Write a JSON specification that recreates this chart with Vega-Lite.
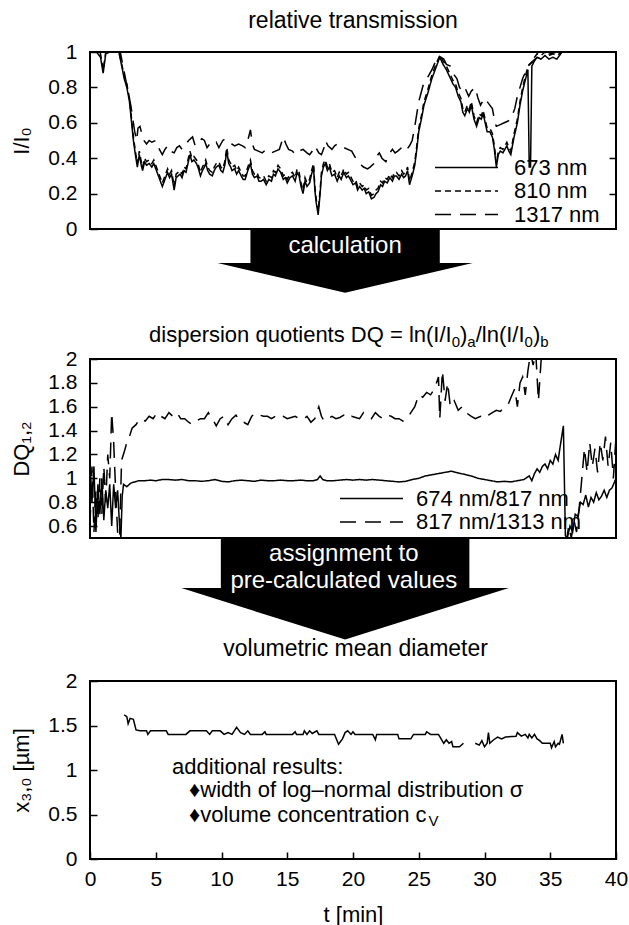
{
  "$schema": "https://vega.github.io/schema/vega-lite/v6.json",
  "padding": {"left": 9, "top": 9, "right": 6, "bottom": 0},
  "background": "white",
  "config": {
    "font": "Liberation Sans",
    "view": {"stroke": "black", "strokeWidth": 2},
    "axis": {"domain": false, "grid": false, "tickColor": "black", "tickSize": -7, "tickWidth": 1.5, "labelFontSize": 21, "labelColor": "black", "titleFontSize": 22, "titleFontWeight": "normal", "titleColor": "black", "labelPadding": 20},
    "title": {"fontSize": 23, "fontWeight": "normal", "color": "black", "offset": 8},
    "legend": {"labelColor": "black", "padding": 0, "symbolStrokeColor": "black", "symbolStrokeWidth": 1.5, "symbolType": "M-3,0H3", "symbolSize": 441, "rowPadding": 0.5, "labelLimit": 300}
  },
  "spacing": 0,
  "bounds": "flush",
  "resolve": {"scale": {"strokeDash": "independent"}, "legend": {"strokeDash": "independent"}},
  "datasets": {
    "tr": [
      {"s":"673 nm","t":0,"v":1},{"s":"673 nm","t":0.5,"v":1},{"s":"673 nm","t":0.8,"v":0.97},{"s":"673 nm","t":1.0,"v":0.88},{"s":"673 nm","t":1.2,"v":0.99},{"s":"673 nm","t":1.5,"v":1},{"s":"673 nm","t":2.2,"v":1},{"s":"673 nm","t":2.6,"v":0.85},{"s":"673 nm","t":2.8,"v":0.8},{"s":"673 nm","t":3.0,"v":0.72},{"s":"673 nm","t":3.3,"v":0.5},{"s":"673 nm","t":3.45,"v":0.42},{"s":"673 nm","t":3.6,"v":0.35},{"s":"673 nm","t":3.75,"v":0.42},{"s":"673 nm","t":3.9,"v":0.36},{"s":"673 nm","t":4.0,"v":0.33},{"s":"673 nm","t":4.15,"v":0.38},{"s":"673 nm","t":4.3,"v":0.36},{"s":"673 nm","t":4.5,"v":0.37},{"s":"673 nm","t":4.7,"v":0.35},{"s":"673 nm","t":4.85,"v":0.37},{"s":"673 nm","t":5.0,"v":0.34},{"s":"673 nm","t":5.2,"v":0.3},{"s":"673 nm","t":5.35,"v":0.27},{"s":"673 nm","t":5.5,"v":0.24},{"s":"673 nm","t":5.65,"v":0.27},{"s":"673 nm","t":5.8,"v":0.3},{"s":"673 nm","t":5.9,"v":0.32},{"s":"673 nm","t":6.05,"v":0.29},{"s":"673 nm","t":6.2,"v":0.31},{"s":"673 nm","t":6.4,"v":0.22},{"s":"673 nm","t":6.55,"v":0.29},{"s":"673 nm","t":6.7,"v":0.3},{"s":"673 nm","t":6.85,"v":0.31},{"s":"673 nm","t":7.0,"v":0.29},{"s":"673 nm","t":7.15,"v":0.33},{"s":"673 nm","t":7.3,"v":0.32},{"s":"673 nm","t":7.45,"v":0.37},{"s":"673 nm","t":7.6,"v":0.42},{"s":"673 nm","t":7.75,"v":0.38},{"s":"673 nm","t":7.9,"v":0.39},{"s":"673 nm","t":8.1,"v":0.37},{"s":"673 nm","t":8.25,"v":0.34},{"s":"673 nm","t":8.4,"v":0.3},{"s":"673 nm","t":8.55,"v":0.33},{"s":"673 nm","t":8.7,"v":0.35},{"s":"673 nm","t":8.8,"v":0.37},{"s":"673 nm","t":8.95,"v":0.33},{"s":"673 nm","t":9.1,"v":0.31},{"s":"673 nm","t":9.3,"v":0.3},{"s":"673 nm","t":9.45,"v":0.33},{"s":"673 nm","t":9.6,"v":0.35},{"s":"673 nm","t":9.8,"v":0.36},{"s":"673 nm","t":9.95,"v":0.33},{"s":"673 nm","t":10.1,"v":0.32},{"s":"673 nm","t":10.25,"v":0.36},{"s":"673 nm","t":10.4,"v":0.44},{"s":"673 nm","t":10.55,"v":0.37},{"s":"673 nm","t":10.7,"v":0.35},{"s":"673 nm","t":10.8,"v":0.33},{"s":"673 nm","t":11.0,"v":0.34},{"s":"673 nm","t":11.15,"v":0.31},{"s":"673 nm","t":11.3,"v":0.33},{"s":"673 nm","t":11.5,"v":0.3},{"s":"673 nm","t":11.65,"v":0.28},{"s":"673 nm","t":11.8,"v":0.28},{"s":"673 nm","t":12.0,"v":0.33},{"s":"673 nm","t":12.1,"v":0.35},{"s":"673 nm","t":12.2,"v":0.37},{"s":"673 nm","t":12.35,"v":0.31},{"s":"673 nm","t":12.5,"v":0.29},{"s":"673 nm","t":12.7,"v":0.3},{"s":"673 nm","t":12.85,"v":0.27},{"s":"673 nm","t":13.0,"v":0.27},{"s":"673 nm","t":13.2,"v":0.28},{"s":"673 nm","t":13.4,"v":0.25},{"s":"673 nm","t":13.6,"v":0.28},{"s":"673 nm","t":13.8,"v":0.27},{"s":"673 nm","t":13.95,"v":0.31},{"s":"673 nm","t":14.1,"v":0.3},{"s":"673 nm","t":14.3,"v":0.34},{"s":"673 nm","t":14.5,"v":0.32},{"s":"673 nm","t":14.7,"v":0.28},{"s":"673 nm","t":14.85,"v":0.29},{"s":"673 nm","t":15.0,"v":0.26},{"s":"673 nm","t":15.2,"v":0.29},{"s":"673 nm","t":15.4,"v":0.3},{"s":"673 nm","t":15.6,"v":0.27},{"s":"673 nm","t":15.75,"v":0.32},{"s":"673 nm","t":15.9,"v":0.3},{"s":"673 nm","t":16.05,"v":0.24},{"s":"673 nm","t":16.2,"v":0.2},{"s":"673 nm","t":16.35,"v":0.27},{"s":"673 nm","t":16.5,"v":0.24},{"s":"673 nm","t":16.7,"v":0.26},{"s":"673 nm","t":16.85,"v":0.31},{"s":"673 nm","t":17.0,"v":0.35},{"s":"673 nm","t":17.1,"v":0.22},{"s":"673 nm","t":17.2,"v":0.15},{"s":"673 nm","t":17.35,"v":0.08},{"s":"673 nm","t":17.5,"v":0.2},{"s":"673 nm","t":17.6,"v":0.3},{"s":"673 nm","t":17.75,"v":0.35},{"s":"673 nm","t":17.9,"v":0.37},{"s":"673 nm","t":18.05,"v":0.33},{"s":"673 nm","t":18.2,"v":0.35},{"s":"673 nm","t":18.4,"v":0.3},{"s":"673 nm","t":18.6,"v":0.31},{"s":"673 nm","t":18.8,"v":0.27},{"s":"673 nm","t":18.95,"v":0.3},{"s":"673 nm","t":19.1,"v":0.28},{"s":"673 nm","t":19.3,"v":0.32},{"s":"673 nm","t":19.5,"v":0.29},{"s":"673 nm","t":19.65,"v":0.3},{"s":"673 nm","t":19.8,"v":0.28},{"s":"673 nm","t":20.0,"v":0.25},{"s":"673 nm","t":20.2,"v":0.26},{"s":"673 nm","t":20.35,"v":0.22},{"s":"673 nm","t":20.5,"v":0.24},{"s":"673 nm","t":20.7,"v":0.22},{"s":"673 nm","t":20.85,"v":0.23},{"s":"673 nm","t":21.0,"v":0.2},{"s":"673 nm","t":21.2,"v":0.21},{"s":"673 nm","t":21.4,"v":0.17},{"s":"673 nm","t":21.6,"v":0.18},{"s":"673 nm","t":21.75,"v":0.2},{"s":"673 nm","t":21.9,"v":0.21},{"s":"673 nm","t":22.1,"v":0.25},{"s":"673 nm","t":22.25,"v":0.24},{"s":"673 nm","t":22.4,"v":0.27},{"s":"673 nm","t":22.6,"v":0.26},{"s":"673 nm","t":22.8,"v":0.29},{"s":"673 nm","t":23.0,"v":0.27},{"s":"673 nm","t":23.15,"v":0.3},{"s":"673 nm","t":23.3,"v":0.3},{"s":"673 nm","t":23.5,"v":0.28},{"s":"673 nm","t":23.7,"v":0.31},{"s":"673 nm","t":23.85,"v":0.29},{"s":"673 nm","t":24.0,"v":0.3},{"s":"673 nm","t":24.15,"v":0.33},{"s":"673 nm","t":24.3,"v":0.25},{"s":"673 nm","t":24.5,"v":0.3},{"s":"673 nm","t":24.7,"v":0.36},{"s":"673 nm","t":24.85,"v":0.45},{"s":"673 nm","t":25.0,"v":0.55},{"s":"673 nm","t":25.2,"v":0.62},{"s":"673 nm","t":25.4,"v":0.7},{"s":"673 nm","t":25.7,"v":0.77},{"s":"673 nm","t":26.0,"v":0.85},{"s":"673 nm","t":26.3,"v":0.91},{"s":"673 nm","t":26.6,"v":0.97},{"s":"673 nm","t":26.85,"v":0.93},{"s":"673 nm","t":27.1,"v":0.9},{"s":"673 nm","t":27.35,"v":0.86},{"s":"673 nm","t":27.6,"v":0.82},{"s":"673 nm","t":27.8,"v":0.8},{"s":"673 nm","t":28.0,"v":0.75},{"s":"673 nm","t":28.2,"v":0.72},{"s":"673 nm","t":28.35,"v":0.66},{"s":"673 nm","t":28.5,"v":0.64},{"s":"673 nm","t":28.7,"v":0.68},{"s":"673 nm","t":28.85,"v":0.66},{"s":"673 nm","t":29.0,"v":0.7},{"s":"673 nm","t":29.2,"v":0.62},{"s":"673 nm","t":29.4,"v":0.58},{"s":"673 nm","t":29.6,"v":0.63},{"s":"673 nm","t":29.75,"v":0.62},{"s":"673 nm","t":29.9,"v":0.65},{"s":"673 nm","t":30.05,"v":0.6},{"s":"673 nm","t":30.2,"v":0.55},{"s":"673 nm","t":30.4,"v":0.55},{"s":"673 nm","t":30.6,"v":0.52},{"s":"673 nm","t":30.75,"v":0.45},{"s":"673 nm","t":30.9,"v":0.35},{"s":"673 nm","t":31.05,"v":0.42},{"s":"673 nm","t":31.2,"v":0.44},{"s":"673 nm","t":31.4,"v":0.43},{"s":"673 nm","t":31.55,"v":0.45},{"s":"673 nm","t":31.7,"v":0.47},{"s":"673 nm","t":31.85,"v":0.44},{"s":"673 nm","t":32.0,"v":0.42},{"s":"673 nm","t":32.25,"v":0.52},{"s":"673 nm","t":32.5,"v":0.6},{"s":"673 nm","t":32.7,"v":0.7},{"s":"673 nm","t":32.9,"v":0.78},{"s":"673 nm","t":33.1,"v":0.84},{"s":"673 nm","t":33.3,"v":0.9},{"s":"673 nm","t":33.4,"v":0.35},{"s":"673 nm","t":33.5,"v":0.35},{"s":"673 nm","t":33.6,"v":0.92},{"s":"673 nm","t":33.8,"v":0.95},{"s":"673 nm","t":34.0,"v":0.97},{"s":"673 nm","t":34.3,"v":0.96},{"s":"673 nm","t":34.6,"v":0.98},{"s":"673 nm","t":34.9,"v":0.96},{"s":"673 nm","t":35.2,"v":0.97},{"s":"673 nm","t":35.5,"v":0.96},{"s":"673 nm","t":35.9,"v":1},{"s":"673 nm","t":37,"v":1},{"s":"673 nm","t":40,"v":1},
      {"s":"810 nm","t":0,"v":1},{"s":"810 nm","t":0.5,"v":1},{"s":"810 nm","t":0.8,"v":0.99},{"s":"810 nm","t":1.0,"v":0.9},{"s":"810 nm","t":1.2,"v":1},{"s":"810 nm","t":2.2,"v":1},{"s":"810 nm","t":2.6,"v":0.87},{"s":"810 nm","t":2.8,"v":0.82},{"s":"810 nm","t":3.0,"v":0.74},{"s":"810 nm","t":3.3,"v":0.52},{"s":"810 nm","t":3.45,"v":0.44},{"s":"810 nm","t":3.6,"v":0.37},{"s":"810 nm","t":3.75,"v":0.44},{"s":"810 nm","t":3.9,"v":0.38},{"s":"810 nm","t":4.0,"v":0.35},{"s":"810 nm","t":4.15,"v":0.4},{"s":"810 nm","t":4.3,"v":0.38},{"s":"810 nm","t":4.5,"v":0.39},{"s":"810 nm","t":4.7,"v":0.37},{"s":"810 nm","t":4.85,"v":0.39},{"s":"810 nm","t":5.0,"v":0.36},{"s":"810 nm","t":5.2,"v":0.32},{"s":"810 nm","t":5.35,"v":0.29},{"s":"810 nm","t":5.5,"v":0.26},{"s":"810 nm","t":5.65,"v":0.29},{"s":"810 nm","t":5.8,"v":0.32},{"s":"810 nm","t":5.9,"v":0.34},{"s":"810 nm","t":6.05,"v":0.31},{"s":"810 nm","t":6.2,"v":0.33},{"s":"810 nm","t":6.4,"v":0.24},{"s":"810 nm","t":6.55,"v":0.31},{"s":"810 nm","t":6.7,"v":0.32},{"s":"810 nm","t":6.85,"v":0.33},{"s":"810 nm","t":7.0,"v":0.31},{"s":"810 nm","t":7.15,"v":0.35},{"s":"810 nm","t":7.3,"v":0.34},{"s":"810 nm","t":7.45,"v":0.39},{"s":"810 nm","t":7.6,"v":0.44},{"s":"810 nm","t":7.75,"v":0.4},{"s":"810 nm","t":7.9,"v":0.41},{"s":"810 nm","t":8.1,"v":0.39},{"s":"810 nm","t":8.25,"v":0.36},{"s":"810 nm","t":8.4,"v":0.32},{"s":"810 nm","t":8.55,"v":0.35},{"s":"810 nm","t":8.7,"v":0.37},{"s":"810 nm","t":8.8,"v":0.39},{"s":"810 nm","t":8.95,"v":0.35},{"s":"810 nm","t":9.1,"v":0.33},{"s":"810 nm","t":9.3,"v":0.32},{"s":"810 nm","t":9.45,"v":0.35},{"s":"810 nm","t":9.6,"v":0.37},{"s":"810 nm","t":9.8,"v":0.38},{"s":"810 nm","t":9.95,"v":0.35},{"s":"810 nm","t":10.1,"v":0.34},{"s":"810 nm","t":10.25,"v":0.38},{"s":"810 nm","t":10.4,"v":0.46},{"s":"810 nm","t":10.55,"v":0.39},{"s":"810 nm","t":10.7,"v":0.37},{"s":"810 nm","t":10.8,"v":0.35},{"s":"810 nm","t":11.0,"v":0.36},{"s":"810 nm","t":11.15,"v":0.33},{"s":"810 nm","t":11.3,"v":0.35},{"s":"810 nm","t":11.5,"v":0.32},{"s":"810 nm","t":11.65,"v":0.3},{"s":"810 nm","t":11.8,"v":0.3},{"s":"810 nm","t":12.0,"v":0.35},{"s":"810 nm","t":12.1,"v":0.37},{"s":"810 nm","t":12.2,"v":0.39},{"s":"810 nm","t":12.35,"v":0.33},{"s":"810 nm","t":12.5,"v":0.31},{"s":"810 nm","t":12.7,"v":0.32},{"s":"810 nm","t":12.85,"v":0.29},{"s":"810 nm","t":13.0,"v":0.29},{"s":"810 nm","t":13.2,"v":0.3},{"s":"810 nm","t":13.4,"v":0.27},{"s":"810 nm","t":13.6,"v":0.3},{"s":"810 nm","t":13.8,"v":0.29},{"s":"810 nm","t":13.95,"v":0.33},{"s":"810 nm","t":14.1,"v":0.32},{"s":"810 nm","t":14.3,"v":0.36},{"s":"810 nm","t":14.5,"v":0.34},{"s":"810 nm","t":14.7,"v":0.3},{"s":"810 nm","t":14.85,"v":0.31},{"s":"810 nm","t":15.0,"v":0.28},{"s":"810 nm","t":15.2,"v":0.31},{"s":"810 nm","t":15.4,"v":0.32},{"s":"810 nm","t":15.6,"v":0.29},{"s":"810 nm","t":15.75,"v":0.34},{"s":"810 nm","t":15.9,"v":0.32},{"s":"810 nm","t":16.05,"v":0.26},{"s":"810 nm","t":16.2,"v":0.22},{"s":"810 nm","t":16.35,"v":0.29},{"s":"810 nm","t":16.5,"v":0.26},{"s":"810 nm","t":16.7,"v":0.28},{"s":"810 nm","t":16.85,"v":0.33},{"s":"810 nm","t":17.0,"v":0.37},{"s":"810 nm","t":17.1,"v":0.24},{"s":"810 nm","t":17.2,"v":0.17},{"s":"810 nm","t":17.35,"v":0.1},{"s":"810 nm","t":17.5,"v":0.22},{"s":"810 nm","t":17.6,"v":0.32},{"s":"810 nm","t":17.75,"v":0.37},{"s":"810 nm","t":17.9,"v":0.39},{"s":"810 nm","t":18.05,"v":0.35},{"s":"810 nm","t":18.2,"v":0.37},{"s":"810 nm","t":18.4,"v":0.32},{"s":"810 nm","t":18.6,"v":0.33},{"s":"810 nm","t":18.8,"v":0.29},{"s":"810 nm","t":18.95,"v":0.32},{"s":"810 nm","t":19.1,"v":0.3},{"s":"810 nm","t":19.3,"v":0.34},{"s":"810 nm","t":19.5,"v":0.31},{"s":"810 nm","t":19.65,"v":0.32},{"s":"810 nm","t":19.8,"v":0.3},{"s":"810 nm","t":20.0,"v":0.27},{"s":"810 nm","t":20.2,"v":0.28},{"s":"810 nm","t":20.35,"v":0.24},{"s":"810 nm","t":20.5,"v":0.26},{"s":"810 nm","t":20.7,"v":0.24},{"s":"810 nm","t":20.85,"v":0.25},{"s":"810 nm","t":21.0,"v":0.22},{"s":"810 nm","t":21.2,"v":0.23},{"s":"810 nm","t":21.4,"v":0.19},{"s":"810 nm","t":21.6,"v":0.2},{"s":"810 nm","t":21.75,"v":0.22},{"s":"810 nm","t":21.9,"v":0.23},{"s":"810 nm","t":22.1,"v":0.27},{"s":"810 nm","t":22.25,"v":0.26},{"s":"810 nm","t":22.4,"v":0.29},{"s":"810 nm","t":22.6,"v":0.28},{"s":"810 nm","t":22.8,"v":0.31},{"s":"810 nm","t":23.0,"v":0.29},{"s":"810 nm","t":23.15,"v":0.32},{"s":"810 nm","t":23.3,"v":0.32},{"s":"810 nm","t":23.5,"v":0.3},{"s":"810 nm","t":23.7,"v":0.33},{"s":"810 nm","t":23.85,"v":0.31},{"s":"810 nm","t":24.0,"v":0.32},{"s":"810 nm","t":24.15,"v":0.35},{"s":"810 nm","t":24.3,"v":0.27},{"s":"810 nm","t":24.5,"v":0.32},{"s":"810 nm","t":24.7,"v":0.38},{"s":"810 nm","t":24.85,"v":0.47},{"s":"810 nm","t":25.0,"v":0.57},{"s":"810 nm","t":25.2,"v":0.64},{"s":"810 nm","t":25.4,"v":0.72},{"s":"810 nm","t":25.7,"v":0.79},{"s":"810 nm","t":26.0,"v":0.87},{"s":"810 nm","t":26.3,"v":0.93},{"s":"810 nm","t":26.6,"v":0.98},{"s":"810 nm","t":26.85,"v":0.95},{"s":"810 nm","t":27.1,"v":0.92},{"s":"810 nm","t":27.35,"v":0.88},{"s":"810 nm","t":27.6,"v":0.84},{"s":"810 nm","t":27.8,"v":0.82},{"s":"810 nm","t":28.0,"v":0.77},{"s":"810 nm","t":28.2,"v":0.74},{"s":"810 nm","t":28.35,"v":0.68},{"s":"810 nm","t":28.5,"v":0.66},{"s":"810 nm","t":28.7,"v":0.7},{"s":"810 nm","t":28.85,"v":0.68},{"s":"810 nm","t":29.0,"v":0.72},{"s":"810 nm","t":29.2,"v":0.64},{"s":"810 nm","t":29.4,"v":0.6},{"s":"810 nm","t":29.6,"v":0.65},{"s":"810 nm","t":29.75,"v":0.64},{"s":"810 nm","t":29.9,"v":0.67},{"s":"810 nm","t":30.05,"v":0.62},{"s":"810 nm","t":30.2,"v":0.57},{"s":"810 nm","t":30.4,"v":0.57},{"s":"810 nm","t":30.6,"v":0.54},{"s":"810 nm","t":30.75,"v":0.47},{"s":"810 nm","t":30.9,"v":0.37},{"s":"810 nm","t":31.05,"v":0.44},{"s":"810 nm","t":31.2,"v":0.46},{"s":"810 nm","t":31.4,"v":0.45},{"s":"810 nm","t":31.55,"v":0.47},{"s":"810 nm","t":31.7,"v":0.49},{"s":"810 nm","t":31.85,"v":0.46},{"s":"810 nm","t":32.0,"v":0.44},{"s":"810 nm","t":32.25,"v":0.54},{"s":"810 nm","t":32.5,"v":0.62},{"s":"810 nm","t":32.7,"v":0.72},{"s":"810 nm","t":32.9,"v":0.8},{"s":"810 nm","t":33.1,"v":0.86},{"s":"810 nm","t":33.3,"v":0.92},{"s":"810 nm","t":33.6,"v":0.94},{"s":"810 nm","t":33.8,"v":0.97},{"s":"810 nm","t":34.0,"v":0.99},{"s":"810 nm","t":34.3,"v":0.98},{"s":"810 nm","t":34.6,"v":1},{"s":"810 nm","t":34.9,"v":0.98},{"s":"810 nm","t":35.2,"v":0.99},{"s":"810 nm","t":35.5,"v":0.98},{"s":"810 nm","t":35.9,"v":1},{"s":"810 nm","t":40,"v":1},
      {"s":"1317 nm","t":0,"v":1},{"s":"1317 nm","t":2.3,"v":1},{"s":"1317 nm","t":2.7,"v":0.85},{"s":"1317 nm","t":3.1,"v":0.7},{"s":"1317 nm","t":3.4,"v":0.55},{"s":"1317 nm","t":3.55,"v":0.5},{"s":"1317 nm","t":3.65,"v":0.57},{"s":"1317 nm","t":3.8,"v":0.58},{"s":"1317 nm","t":3.9,"v":0.55},{"s":"1317 nm","t":4.1,"v":0.5},{"s":"1317 nm","t":4.3,"v":0.48},{"s":"1317 nm","t":4.5,"v":0.5},{"s":"1317 nm","t":4.7,"v":0.49},{"s":"1317 nm","t":5.0,"v":0.5},{"s":"1317 nm","t":5.2,"v":0.46},{"s":"1317 nm","t":5.5,"v":0.42},{"s":"1317 nm","t":5.7,"v":0.45},{"s":"1317 nm","t":5.9,"v":0.47},{"s":"1317 nm","t":6.1,"v":0.44},{"s":"1317 nm","t":6.4,"v":0.43},{"s":"1317 nm","t":6.6,"v":0.46},{"s":"1317 nm","t":6.8,"v":0.47},{"s":"1317 nm","t":7.0,"v":0.45},{"s":"1317 nm","t":7.3,"v":0.48},{"s":"1317 nm","t":7.5,"v":0.5},{"s":"1317 nm","t":7.8,"v":0.52},{"s":"1317 nm","t":8.0,"v":0.47},{"s":"1317 nm","t":8.2,"v":0.49},{"s":"1317 nm","t":8.5,"v":0.51},{"s":"1317 nm","t":8.7,"v":0.5},{"s":"1317 nm","t":8.9,"v":0.46},{"s":"1317 nm","t":9.1,"v":0.48},{"s":"1317 nm","t":9.3,"v":0.47},{"s":"1317 nm","t":9.6,"v":0.49},{"s":"1317 nm","t":9.8,"v":0.46},{"s":"1317 nm","t":10.1,"v":0.5},{"s":"1317 nm","t":10.3,"v":0.51},{"s":"1317 nm","t":10.5,"v":0.5},{"s":"1317 nm","t":10.8,"v":0.48},{"s":"1317 nm","t":11.0,"v":0.47},{"s":"1317 nm","t":11.3,"v":0.48},{"s":"1317 nm","t":11.6,"v":0.47},{"s":"1317 nm","t":11.8,"v":0.46},{"s":"1317 nm","t":12.0,"v":0.5},{"s":"1317 nm","t":12.2,"v":0.56},{"s":"1317 nm","t":12.35,"v":0.48},{"s":"1317 nm","t":12.5,"v":0.45},{"s":"1317 nm","t":12.8,"v":0.44},{"s":"1317 nm","t":13.1,"v":0.43},{"s":"1317 nm","t":13.4,"v":0.45},{"s":"1317 nm","t":13.8,"v":0.43},{"s":"1317 nm","t":14.1,"v":0.44},{"s":"1317 nm","t":14.4,"v":0.45},{"s":"1317 nm","t":14.7,"v":0.52},{"s":"1317 nm","t":14.9,"v":0.48},{"s":"1317 nm","t":15.1,"v":0.45},{"s":"1317 nm","t":15.4,"v":0.44},{"s":"1317 nm","t":15.6,"v":0.42},{"s":"1317 nm","t":15.9,"v":0.44},{"s":"1317 nm","t":16.2,"v":0.45},{"s":"1317 nm","t":16.5,"v":0.43},{"s":"1317 nm","t":16.7,"v":0.42},{"s":"1317 nm","t":17.0,"v":0.45},{"s":"1317 nm","t":17.1,"v":0.47},{"s":"1317 nm","t":17.4,"v":0.43},{"s":"1317 nm","t":17.6,"v":0.42},{"s":"1317 nm","t":17.8,"v":0.46},{"s":"1317 nm","t":17.9,"v":0.5},{"s":"1317 nm","t":18.1,"v":0.47},{"s":"1317 nm","t":18.4,"v":0.45},{"s":"1317 nm","t":18.6,"v":0.47},{"s":"1317 nm","t":18.8,"v":0.48},{"s":"1317 nm","t":19.1,"v":0.46},{"s":"1317 nm","t":19.3,"v":0.46},{"s":"1317 nm","t":19.6,"v":0.45},{"s":"1317 nm","t":19.9,"v":0.44},{"s":"1317 nm","t":20.2,"v":0.4},{"s":"1317 nm","t":20.5,"v":0.37},{"s":"1317 nm","t":20.8,"v":0.35},{"s":"1317 nm","t":21.1,"v":0.34},{"s":"1317 nm","t":21.3,"v":0.35},{"s":"1317 nm","t":21.6,"v":0.37},{"s":"1317 nm","t":21.8,"v":0.41},{"s":"1317 nm","t":22.0,"v":0.43},{"s":"1317 nm","t":22.2,"v":0.4},{"s":"1317 nm","t":22.5,"v":0.38},{"s":"1317 nm","t":22.7,"v":0.42},{"s":"1317 nm","t":23.0,"v":0.45},{"s":"1317 nm","t":23.2,"v":0.43},{"s":"1317 nm","t":23.4,"v":0.44},{"s":"1317 nm","t":23.7,"v":0.46},{"s":"1317 nm","t":23.9,"v":0.47},{"s":"1317 nm","t":24.1,"v":0.45},{"s":"1317 nm","t":24.3,"v":0.47},{"s":"1317 nm","t":24.5,"v":0.5},{"s":"1317 nm","t":24.7,"v":0.58},{"s":"1317 nm","t":25.0,"v":0.72},{"s":"1317 nm","t":25.4,"v":0.83},{"s":"1317 nm","t":25.7,"v":0.86},{"s":"1317 nm","t":26.0,"v":0.9},{"s":"1317 nm","t":26.3,"v":0.95},{"s":"1317 nm","t":26.5,"v":0.98},{"s":"1317 nm","t":26.9,"v":0.96},{"s":"1317 nm","t":27.1,"v":0.93},{"s":"1317 nm","t":27.4,"v":0.92},{"s":"1317 nm","t":27.6,"v":0.88},{"s":"1317 nm","t":27.9,"v":0.85},{"s":"1317 nm","t":28.1,"v":0.8},{"s":"1317 nm","t":28.3,"v":0.78},{"s":"1317 nm","t":28.5,"v":0.8},{"s":"1317 nm","t":28.8,"v":0.75},{"s":"1317 nm","t":29.0,"v":0.78},{"s":"1317 nm","t":29.3,"v":0.8},{"s":"1317 nm","t":29.5,"v":0.74},{"s":"1317 nm","t":29.7,"v":0.7},{"s":"1317 nm","t":30.0,"v":0.74},{"s":"1317 nm","t":30.2,"v":0.72},{"s":"1317 nm","t":30.4,"v":0.7},{"s":"1317 nm","t":30.6,"v":0.68},{"s":"1317 nm","t":30.8,"v":0.6},{"s":"1317 nm","t":30.9,"v":0.58},{"s":"1317 nm","t":31.2,"v":0.59},{"s":"1317 nm","t":31.5,"v":0.6},{"s":"1317 nm","t":31.8,"v":0.61},{"s":"1317 nm","t":32.0,"v":0.62},{"s":"1317 nm","t":32.3,"v":0.68},{"s":"1317 nm","t":32.5,"v":0.75},{"s":"1317 nm","t":32.9,"v":0.85},{"s":"1317 nm","t":33.2,"v":0.9},{"s":"1317 nm","t":33.4,"v":0.93},{"s":"1317 nm","t":33.7,"v":0.95},{"s":"1317 nm","t":34.0,"v":0.97},{"s":"1317 nm","t":34.3,"v":0.96},{"s":"1317 nm","t":34.6,"v":0.98},{"s":"1317 nm","t":35.0,"v":0.99},{"s":"1317 nm","t":35.5,"v":1},{"s":"1317 nm","t":40,"v":1}
    ],
    "dq": [
      {"s":"674 nm/817 nm","t":0,"v":1.15},{"s":"674 nm/817 nm","t":0.15,"v":0.8},{"s":"674 nm/817 nm","t":0.3,"v":1.1},{"s":"674 nm/817 nm","t":0.45,"v":0.55},{"s":"674 nm/817 nm","t":0.6,"v":0.95},{"s":"674 nm/817 nm","t":0.75,"v":0.7},{"s":"674 nm/817 nm","t":0.9,"v":1.0},{"s":"674 nm/817 nm","t":1.05,"v":0.65},{"s":"674 nm/817 nm","t":1.2,"v":0.9},{"s":"674 nm/817 nm","t":1.35,"v":0.75},{"s":"674 nm/817 nm","t":1.5,"v":0.95},{"s":"674 nm/817 nm","t":1.65,"v":0.6},{"s":"674 nm/817 nm","t":1.8,"v":0.95},{"s":"674 nm/817 nm","t":1.95,"v":0.75},{"s":"674 nm/817 nm","t":2.1,"v":0.9},{"s":"674 nm/817 nm","t":2.25,"v":0.6},{"s":"674 nm/817 nm","t":2.35,"v":0.5},{"s":"674 nm/817 nm","t":2.45,"v":0.85},{"s":"674 nm/817 nm","t":2.55,"v":0.95},{"s":"674 nm/817 nm","t":2.8,"v":0.93},{"s":"674 nm/817 nm","t":3.1,"v":0.96},{"s":"674 nm/817 nm","t":3.4,"v":0.97},{"s":"674 nm/817 nm","t":3.7,"v":0.98},{"s":"674 nm/817 nm","t":4.2,"v":0.98},{"s":"674 nm/817 nm","t":4.6,"v":0.985},{"s":"674 nm/817 nm","t":5.0,"v":0.98},{"s":"674 nm/817 nm","t":5.5,"v":0.99},{"s":"674 nm/817 nm","t":6.0,"v":0.99},{"s":"674 nm/817 nm","t":6.5,"v":0.985},{"s":"674 nm/817 nm","t":7.0,"v":0.99},{"s":"674 nm/817 nm","t":7.5,"v":0.98},{"s":"674 nm/817 nm","t":8.0,"v":0.98},{"s":"674 nm/817 nm","t":8.5,"v":0.975},{"s":"674 nm/817 nm","t":9.0,"v":0.98},{"s":"674 nm/817 nm","t":9.5,"v":0.99},{"s":"674 nm/817 nm","t":10.0,"v":0.975},{"s":"674 nm/817 nm","t":10.5,"v":0.97},{"s":"674 nm/817 nm","t":11.0,"v":0.98},{"s":"674 nm/817 nm","t":11.5,"v":0.985},{"s":"674 nm/817 nm","t":12.0,"v":0.98},{"s":"674 nm/817 nm","t":12.5,"v":0.975},{"s":"674 nm/817 nm","t":13.0,"v":0.985},{"s":"674 nm/817 nm","t":13.5,"v":0.98},{"s":"674 nm/817 nm","t":14.0,"v":0.98},{"s":"674 nm/817 nm","t":14.5,"v":0.985},{"s":"674 nm/817 nm","t":15.0,"v":0.98},{"s":"674 nm/817 nm","t":15.5,"v":0.98},{"s":"674 nm/817 nm","t":16.0,"v":0.985},{"s":"674 nm/817 nm","t":16.5,"v":0.98},{"s":"674 nm/817 nm","t":17.0,"v":0.98},{"s":"674 nm/817 nm","t":17.3,"v":0.99},{"s":"674 nm/817 nm","t":17.5,"v":1.02},{"s":"674 nm/817 nm","t":17.7,"v":0.99},{"s":"674 nm/817 nm","t":18.0,"v":0.98},{"s":"674 nm/817 nm","t":18.5,"v":0.98},{"s":"674 nm/817 nm","t":19.0,"v":0.985},{"s":"674 nm/817 nm","t":19.5,"v":0.99},{"s":"674 nm/817 nm","t":20.0,"v":0.985},{"s":"674 nm/817 nm","t":20.5,"v":0.99},{"s":"674 nm/817 nm","t":21.0,"v":0.985},{"s":"674 nm/817 nm","t":21.5,"v":0.99},{"s":"674 nm/817 nm","t":22.0,"v":0.985},{"s":"674 nm/817 nm","t":22.5,"v":0.98},{"s":"674 nm/817 nm","t":23.0,"v":0.975},{"s":"674 nm/817 nm","t":23.5,"v":0.97},{"s":"674 nm/817 nm","t":24.0,"v":0.975},{"s":"674 nm/817 nm","t":24.5,"v":0.99},{"s":"674 nm/817 nm","t":25.0,"v":1.0},{"s":"674 nm/817 nm","t":25.5,"v":1.02},{"s":"674 nm/817 nm","t":26.0,"v":1.03},{"s":"674 nm/817 nm","t":26.5,"v":1.04},{"s":"674 nm/817 nm","t":27.0,"v":1.05},{"s":"674 nm/817 nm","t":27.5,"v":1.06},{"s":"674 nm/817 nm","t":27.8,"v":1.05},{"s":"674 nm/817 nm","t":28.2,"v":1.04},{"s":"674 nm/817 nm","t":28.6,"v":1.03},{"s":"674 nm/817 nm","t":29.0,"v":1.02},{"s":"674 nm/817 nm","t":29.5,"v":1.0},{"s":"674 nm/817 nm","t":30.0,"v":0.99},{"s":"674 nm/817 nm","t":30.5,"v":0.98},{"s":"674 nm/817 nm","t":31.0,"v":0.97},{"s":"674 nm/817 nm","t":31.5,"v":0.975},{"s":"674 nm/817 nm","t":32.0,"v":0.97},{"s":"674 nm/817 nm","t":32.5,"v":0.98},{"s":"674 nm/817 nm","t":33.0,"v":0.99},{"s":"674 nm/817 nm","t":33.4,"v":1.02},{"s":"674 nm/817 nm","t":33.6,"v":0.98},{"s":"674 nm/817 nm","t":33.8,"v":1.04},{"s":"674 nm/817 nm","t":34.0,"v":1.08},{"s":"674 nm/817 nm","t":34.2,"v":1.05},{"s":"674 nm/817 nm","t":34.4,"v":1.1},{"s":"674 nm/817 nm","t":34.6,"v":1.12},{"s":"674 nm/817 nm","t":34.8,"v":1.08},{"s":"674 nm/817 nm","t":35.0,"v":1.15},{"s":"674 nm/817 nm","t":35.2,"v":1.12},{"s":"674 nm/817 nm","t":35.4,"v":1.2},{"s":"674 nm/817 nm","t":35.6,"v":1.15},{"s":"674 nm/817 nm","t":35.8,"v":1.3},{"s":"674 nm/817 nm","t":36.0,"v":1.44},{"s":"674 nm/817 nm","t":36.15,"v":0.52},{"s":"674 nm/817 nm","t":36.3,"v":0.5},{"s":"674 nm/817 nm","t":36.5,"v":0.6},{"s":"674 nm/817 nm","t":36.7,"v":0.55},{"s":"674 nm/817 nm","t":36.9,"v":0.7},{"s":"674 nm/817 nm","t":37.1,"v":0.68},{"s":"674 nm/817 nm","t":37.3,"v":0.8},{"s":"674 nm/817 nm","t":37.5,"v":0.78},{"s":"674 nm/817 nm","t":37.7,"v":0.86},{"s":"674 nm/817 nm","t":37.9,"v":0.76},{"s":"674 nm/817 nm","t":38.1,"v":0.84},{"s":"674 nm/817 nm","t":38.3,"v":0.8},{"s":"674 nm/817 nm","t":38.5,"v":0.88},{"s":"674 nm/817 nm","t":38.7,"v":0.82},{"s":"674 nm/817 nm","t":38.9,"v":0.85},{"s":"674 nm/817 nm","t":39.1,"v":0.9},{"s":"674 nm/817 nm","t":39.3,"v":0.84},{"s":"674 nm/817 nm","t":39.5,"v":0.9},{"s":"674 nm/817 nm","t":39.7,"v":0.92},{"s":"674 nm/817 nm","t":40,"v":1.0},
      {"s":"817 nm/1313 nm","t":0,"v":0.6},{"s":"817 nm/1313 nm","t":0.15,"v":1.1},{"s":"817 nm/1313 nm","t":0.3,"v":0.55},{"s":"817 nm/1313 nm","t":0.45,"v":0.9},{"s":"817 nm/1313 nm","t":0.6,"v":0.65},{"s":"817 nm/1313 nm","t":0.75,"v":1.0},{"s":"817 nm/1313 nm","t":0.9,"v":0.7},{"s":"817 nm/1313 nm","t":1.05,"v":1.1},{"s":"817 nm/1313 nm","t":1.2,"v":0.8},{"s":"817 nm/1313 nm","t":1.35,"v":1.2},{"s":"817 nm/1313 nm","t":1.5,"v":1.0},{"s":"817 nm/1313 nm","t":1.65,"v":1.55},{"s":"817 nm/1313 nm","t":1.8,"v":1.3},{"s":"817 nm/1313 nm","t":1.95,"v":0.9},{"s":"817 nm/1313 nm","t":2.1,"v":0.55},{"s":"817 nm/1313 nm","t":2.25,"v":0.5},{"s":"817 nm/1313 nm","t":2.4,"v":1.15},{"s":"817 nm/1313 nm","t":2.6,"v":1.22},{"s":"817 nm/1313 nm","t":2.8,"v":1.3},{"s":"817 nm/1313 nm","t":3.0,"v":1.35},{"s":"817 nm/1313 nm","t":3.2,"v":1.42},{"s":"817 nm/1313 nm","t":3.5,"v":1.45},{"s":"817 nm/1313 nm","t":3.8,"v":1.5},{"s":"817 nm/1313 nm","t":4.2,"v":1.48},{"s":"817 nm/1313 nm","t":4.5,"v":1.52},{"s":"817 nm/1313 nm","t":4.8,"v":1.5},{"s":"817 nm/1313 nm","t":5.1,"v":1.55},{"s":"817 nm/1313 nm","t":5.4,"v":1.52},{"s":"817 nm/1313 nm","t":5.7,"v":1.5},{"s":"817 nm/1313 nm","t":6.0,"v":1.55},{"s":"817 nm/1313 nm","t":6.3,"v":1.52},{"s":"817 nm/1313 nm","t":6.6,"v":1.55},{"s":"817 nm/1313 nm","t":6.9,"v":1.5},{"s":"817 nm/1313 nm","t":7.2,"v":1.5},{"s":"817 nm/1313 nm","t":7.5,"v":1.47},{"s":"817 nm/1313 nm","t":7.8,"v":1.45},{"s":"817 nm/1313 nm","t":8.1,"v":1.48},{"s":"817 nm/1313 nm","t":8.4,"v":1.5},{"s":"817 nm/1313 nm","t":8.7,"v":1.5},{"s":"817 nm/1313 nm","t":9.0,"v":1.55},{"s":"817 nm/1313 nm","t":9.3,"v":1.5},{"s":"817 nm/1313 nm","t":9.6,"v":1.44},{"s":"817 nm/1313 nm","t":9.9,"v":1.5},{"s":"817 nm/1313 nm","t":10.2,"v":1.52},{"s":"817 nm/1313 nm","t":10.5,"v":1.45},{"s":"817 nm/1313 nm","t":10.8,"v":1.5},{"s":"817 nm/1313 nm","t":11.1,"v":1.53},{"s":"817 nm/1313 nm","t":11.4,"v":1.48},{"s":"817 nm/1313 nm","t":11.7,"v":1.47},{"s":"817 nm/1313 nm","t":12.0,"v":1.45},{"s":"817 nm/1313 nm","t":12.3,"v":1.52},{"s":"817 nm/1313 nm","t":12.6,"v":1.55},{"s":"817 nm/1313 nm","t":12.9,"v":1.53},{"s":"817 nm/1313 nm","t":13.2,"v":1.52},{"s":"817 nm/1313 nm","t":13.5,"v":1.52},{"s":"817 nm/1313 nm","t":13.8,"v":1.5},{"s":"817 nm/1313 nm","t":14.1,"v":1.52},{"s":"817 nm/1313 nm","t":14.4,"v":1.5},{"s":"817 nm/1313 nm","t":14.7,"v":1.52},{"s":"817 nm/1313 nm","t":15.0,"v":1.5},{"s":"817 nm/1313 nm","t":15.3,"v":1.51},{"s":"817 nm/1313 nm","t":15.6,"v":1.52},{"s":"817 nm/1313 nm","t":15.9,"v":1.5},{"s":"817 nm/1313 nm","t":16.2,"v":1.49},{"s":"817 nm/1313 nm","t":16.5,"v":1.52},{"s":"817 nm/1313 nm","t":16.8,"v":1.47},{"s":"817 nm/1313 nm","t":17.1,"v":1.5},{"s":"817 nm/1313 nm","t":17.4,"v":1.6},{"s":"817 nm/1313 nm","t":17.6,"v":1.52},{"s":"817 nm/1313 nm","t":17.8,"v":1.48},{"s":"817 nm/1313 nm","t":18.1,"v":1.5},{"s":"817 nm/1313 nm","t":18.4,"v":1.52},{"s":"817 nm/1313 nm","t":18.7,"v":1.5},{"s":"817 nm/1313 nm","t":19.0,"v":1.51},{"s":"817 nm/1313 nm","t":19.3,"v":1.53},{"s":"817 nm/1313 nm","t":19.6,"v":1.5},{"s":"817 nm/1313 nm","t":19.9,"v":1.52},{"s":"817 nm/1313 nm","t":20.2,"v":1.51},{"s":"817 nm/1313 nm","t":20.5,"v":1.5},{"s":"817 nm/1313 nm","t":20.8,"v":1.55},{"s":"817 nm/1313 nm","t":21.1,"v":1.52},{"s":"817 nm/1313 nm","t":21.4,"v":1.5},{"s":"817 nm/1313 nm","t":21.7,"v":1.55},{"s":"817 nm/1313 nm","t":22.0,"v":1.52},{"s":"817 nm/1313 nm","t":22.3,"v":1.5},{"s":"817 nm/1313 nm","t":22.6,"v":1.53},{"s":"817 nm/1313 nm","t":22.9,"v":1.52},{"s":"817 nm/1313 nm","t":23.2,"v":1.5},{"s":"817 nm/1313 nm","t":23.5,"v":1.5},{"s":"817 nm/1313 nm","t":23.8,"v":1.48},{"s":"817 nm/1313 nm","t":24.1,"v":1.5},{"s":"817 nm/1313 nm","t":24.4,"v":1.55},{"s":"817 nm/1313 nm","t":24.7,"v":1.6},{"s":"817 nm/1313 nm","t":25.0,"v":1.7},{"s":"817 nm/1313 nm","t":25.3,"v":1.68},{"s":"817 nm/1313 nm","t":25.6,"v":1.72},{"s":"817 nm/1313 nm","t":25.9,"v":1.7},{"s":"817 nm/1313 nm","t":26.2,"v":1.75},{"s":"817 nm/1313 nm","t":26.5,"v":1.85},{"s":"817 nm/1313 nm","t":26.6,"v":1.5},{"s":"817 nm/1313 nm","t":26.8,"v":1.9},{"s":"817 nm/1313 nm","t":27.0,"v":1.65},{"s":"817 nm/1313 nm","t":27.2,"v":1.8},{"s":"817 nm/1313 nm","t":27.4,"v":1.6},{"s":"817 nm/1313 nm","t":27.7,"v":1.65},{"s":"817 nm/1313 nm","t":28.0,"v":1.57},{"s":"817 nm/1313 nm","t":28.3,"v":1.6},{"s":"817 nm/1313 nm","t":28.6,"v":1.55},{"s":"817 nm/1313 nm","t":29.0,"v":1.52},{"s":"817 nm/1313 nm","t":29.3,"v":1.5},{"s":"817 nm/1313 nm","t":29.7,"v":1.52},{"s":"817 nm/1313 nm","t":30.0,"v":1.5},{"s":"817 nm/1313 nm","t":30.3,"v":1.53},{"s":"817 nm/1313 nm","t":30.6,"v":1.55},{"s":"817 nm/1313 nm","t":30.9,"v":1.57},{"s":"817 nm/1313 nm","t":31.2,"v":1.56},{"s":"817 nm/1313 nm","t":31.5,"v":1.6},{"s":"817 nm/1313 nm","t":31.8,"v":1.62},{"s":"817 nm/1313 nm","t":32.1,"v":1.7},{"s":"817 nm/1313 nm","t":32.3,"v":1.75},{"s":"817 nm/1313 nm","t":32.5,"v":1.6},{"s":"817 nm/1313 nm","t":32.7,"v":1.8},{"s":"817 nm/1313 nm","t":32.9,"v":1.85},{"s":"817 nm/1313 nm","t":33.1,"v":1.7},{"s":"817 nm/1313 nm","t":33.3,"v":1.9},{"s":"817 nm/1313 nm","t":33.5,"v":2.05},{"s":"817 nm/1313 nm","t":33.7,"v":1.95},{"s":"817 nm/1313 nm","t":33.9,"v":2.05},{"s":"817 nm/1313 nm","t":34.1,"v":1.65},{"s":"817 nm/1313 nm","t":34.3,"v":1.98},{"s":"817 nm/1313 nm","t":34.5,"v":2.2},{"s":"817 nm/1313 nm","t":34.8,"v":2.4},
      {"s":"817 nm/1313 nm","g":"late","t":36.2,"v":0.45},{"s":"817 nm/1313 nm","g":"late","t":36.4,"v":0.6},{"s":"817 nm/1313 nm","g":"late","t":36.6,"v":0.5},{"s":"817 nm/1313 nm","g":"late","t":36.8,"v":0.65},{"s":"817 nm/1313 nm","g":"late","t":37.0,"v":0.55},{"s":"817 nm/1313 nm","g":"late","t":37.2,"v":0.75},{"s":"817 nm/1313 nm","g":"late","t":37.4,"v":1.0},{"s":"817 nm/1313 nm","g":"late","t":37.6,"v":1.25},{"s":"817 nm/1313 nm","g":"late","t":37.8,"v":1.05},{"s":"817 nm/1313 nm","g":"late","t":38.0,"v":1.3},{"s":"817 nm/1313 nm","g":"late","t":38.2,"v":1.1},{"s":"817 nm/1313 nm","g":"late","t":38.4,"v":1.25},{"s":"817 nm/1313 nm","g":"late","t":38.6,"v":1.05},{"s":"817 nm/1313 nm","g":"late","t":38.8,"v":1.3},{"s":"817 nm/1313 nm","g":"late","t":39.0,"v":1.15},{"s":"817 nm/1313 nm","g":"late","t":39.2,"v":1.35},{"s":"817 nm/1313 nm","g":"late","t":39.4,"v":1.1},{"s":"817 nm/1313 nm","g":"late","t":39.6,"v":1.3},{"s":"817 nm/1313 nm","g":"late","t":39.8,"v":1.0},{"s":"817 nm/1313 nm","g":"late","t":40,"v":1.35}
    ],
    "x30": [
      {"g":"a","t":2.6,"v":1.62},{"g":"a","t":2.8,"v":1.6},{"g":"a","t":2.9,"v":1.52},{"g":"a","t":3.05,"v":1.58},{"g":"a","t":3.3,"v":1.57},{"g":"a","t":3.5,"v":1.45},{"g":"a","t":3.8,"v":1.44},{"g":"a","t":4.3,"v":1.44},{"g":"a","t":4.4,"v":1.4},{"g":"a","t":4.6,"v":1.44},{"g":"a","t":5.8,"v":1.44},{"g":"a","t":5.95,"v":1.4},{"g":"a","t":7.3,"v":1.4},{"g":"a","t":7.6,"v":1.44},{"g":"a","t":8.85,"v":1.44},{"g":"a","t":9.1,"v":1.4},{"g":"a","t":9.3,"v":1.44},{"g":"a","t":9.9,"v":1.44},{"g":"a","t":10.2,"v":1.4},{"g":"a","t":10.5,"v":1.42},{"g":"a","t":10.8,"v":1.4},{"g":"a","t":11.15,"v":1.48},{"g":"a","t":11.45,"v":1.42},{"g":"a","t":11.75,"v":1.4},{"g":"a","t":12.0,"v":1.44},{"g":"a","t":12.2,"v":1.4},{"g":"a","t":13.1,"v":1.4},{"g":"a","t":13.3,"v":1.43},{"g":"a","t":13.4,"v":1.4},{"g":"a","t":15.4,"v":1.4},{"g":"a","t":15.6,"v":1.43},{"g":"a","t":15.7,"v":1.4},{"g":"a","t":16.2,"v":1.4},{"g":"a","t":16.3,"v":1.44},{"g":"a","t":16.5,"v":1.4},{"g":"a","t":16.7,"v":1.44},{"g":"a","t":16.9,"v":1.41},{"g":"a","t":17.25,"v":1.44},{"g":"a","t":17.4,"v":1.4},{"g":"a","t":18.6,"v":1.4},{"g":"a","t":18.9,"v":1.29},{"g":"a","t":19.2,"v":1.35},{"g":"a","t":19.4,"v":1.42},{"g":"a","t":19.6,"v":1.44},{"g":"a","t":19.85,"v":1.4},{"g":"a","t":20.0,"v":1.43},{"g":"a","t":20.15,"v":1.4},{"g":"a","t":21.5,"v":1.4},{"g":"a","t":21.7,"v":1.34},{"g":"a","t":21.8,"v":1.4},{"g":"a","t":23.4,"v":1.4},{"g":"a","t":23.5,"v":1.35},{"g":"a","t":24.4,"v":1.35},{"g":"a","t":24.6,"v":1.4},{"g":"a","t":25.5,"v":1.4},{"g":"a","t":25.6,"v":1.43},{"g":"a","t":25.9,"v":1.4},{"g":"a","t":26.5,"v":1.4},{"g":"a","t":26.7,"v":1.35},{"g":"a","t":26.9,"v":1.3},{"g":"a","t":27.1,"v":1.34},{"g":"a","t":27.3,"v":1.3},{"g":"a","t":27.5,"v":1.32},{"g":"a","t":27.6,"v":1.26},{"g":"a","t":28.1,"v":1.26},{"g":"a","t":28.4,"v":1.3},
      {"g":"b","t":29.3,"v":1.3},{"g":"b","t":29.6,"v":1.28},{"g":"b","t":29.8,"v":1.33},{"g":"b","t":30.0,"v":1.26},{"g":"b","t":30.2,"v":1.3},{"g":"b","t":30.3,"v":1.42},{"g":"b","t":30.4,"v":1.3},{"g":"b","t":30.7,"v":1.34},{"g":"b","t":31.0,"v":1.37},{"g":"b","t":31.3,"v":1.35},{"g":"b","t":31.6,"v":1.37},{"g":"b","t":32.4,"v":1.38},{"g":"b","t":32.5,"v":1.42},{"g":"b","t":32.8,"v":1.38},{"g":"b","t":33.1,"v":1.4},{"g":"b","t":33.3,"v":1.36},{"g":"b","t":33.4,"v":1.4},{"g":"b","t":33.6,"v":1.36},{"g":"b","t":33.8,"v":1.4},{"g":"b","t":34.0,"v":1.35},{"g":"b","t":34.2,"v":1.33},{"g":"b","t":34.4,"v":1.3},{"g":"b","t":35.0,"v":1.3},{"g":"b","t":35.1,"v":1.25},{"g":"b","t":35.3,"v":1.32},{"g":"b","t":35.4,"v":1.26},{"g":"b","t":35.6,"v":1.3},{"g":"b","t":35.7,"v":1.29},{"g":"b","t":35.9,"v":1.4},{"g":"b","t":36.0,"v":1.3}
    ],
    "shaft1": [{"x1": 12.2, "x2": 26.6, "y1": 1, "y2": 0.735}],
    "head1": [{"t": 9.7, "y": 0.738, "y2": 0.738}, {"t": 19.4, "y": 0.738, "y2": 0.51}, {"t": 29.1, "y": 0.738, "y2": 0.738}],
    "shaft2": [{"x1": 9.95, "x2": 28.85, "y1": 1, "y2": 0.645}],
    "head2": [{"t": 6.95, "y": 0.65, "y2": 0.65}, {"t": 19.4, "y": 0.65, "y2": 0.29}, {"t": 31.85, "y": 0.65, "y2": 0.65}]
  },
  "vconcat": [
    {
      "width": 526, "height": 177,
      "title": {"text": "relative transmission"},
      "data": {"name": "tr"},
      "layer": [
        {
          "mark": {"type": "line", "clip": true, "color": "black", "strokeWidth": 1.5},
          "encoding": {
            "x": {"field": "t", "type": "quantitative", "scale": {"domain": [0, 40]}, "axis": null},
            "y": {"field": "v", "type": "quantitative", "scale": {"domain": [0, 1]}, "axis": {"values": [0, 0.2, 0.4, 0.6, 0.8, 1], "format": "~g", "title": "I/I₀", "titlePadding": 14}},
            "strokeDash": {"field": "s", "type": "nominal", "scale": {"domain": ["673 nm", "810 nm", "1317 nm"], "range": [[1, 0], [6, 4], [16, 9]]},
              "legend": {"orient": "none", "legendX": 365, "legendY": 104, "title": null, "labelFontSize": 22, "labelOffset": 36}}
          }
        },
        {
          "mark": {"type": "line", "strokeOpacity": 0},
          "encoding": {
            "x": {"field": "t", "type": "quantitative", "axis": null},
            "y": {"field": "v", "type": "quantitative", "axis": {"orient": "right", "labels": false, "title": null, "values": [0.2, 0.4, 0.6, 0.8]}},
            "detail": {"field": "s"}
          }
        }
      ],
      "resolve": {"axis": {"y": "independent"}}
    },
    {
      "width": 526, "height": 130,
      "view": {"stroke": null},
      "layer": [
        {
          "data": {"name": "shaft1"},
          "mark": {"type": "rect", "color": "black"},
          "encoding": {
            "x": {"field": "x1", "type": "quantitative", "scale": {"domain": [0, 40]}, "axis": null},
            "x2": {"field": "x2"},
            "y": {"field": "y1", "type": "quantitative", "scale": {"domain": [0, 1]}, "axis": null},
            "y2": {"field": "y2"}
          }
        },
        {
          "data": {"name": "head1"},
          "mark": {"type": "area", "color": "black"},
          "encoding": {
            "x": {"field": "t", "type": "quantitative"},
            "y": {"field": "y", "type": "quantitative"},
            "y2": {"field": "y2"}
          }
        },
        {"data": {"values": [{}]}, "mark": {"type": "text", "text": "calculation", "color": "white", "fontSize": 24, "align": "center", "baseline": "middle"},
          "encoding": {"x": {"datum": 19.4}, "y": {"datum": 0.87}}},
        {"data": {"values": [{}]}, "mark": {"type": "text", "text": "dispersion quotients DQ = ln(I/I", "color": "black", "fontSize": 22, "align": "left", "baseline": "alphabetic"},
          "encoding": {"x": {"datum": 4.49}, "y": {"datum": 0.131}}},
        {"data": {"values": [{}]}, "mark": {"type": "text", "text": "0", "color": "black", "fontSize": 15, "align": "left", "baseline": "alphabetic"},
          "encoding": {"x": {"datum": 27.5}, "y": {"datum": 0.095}}},
        {"data": {"values": [{}]}, "mark": {"type": "text", "text": ")", "color": "black", "fontSize": 22, "align": "left", "baseline": "alphabetic"},
          "encoding": {"x": {"datum": 28.13}, "y": {"datum": 0.131}}},
        {"data": {"values": [{}]}, "mark": {"type": "text", "text": "a", "color": "black", "fontSize": 15, "align": "left", "baseline": "alphabetic"},
          "encoding": {"x": {"datum": 28.69}, "y": {"datum": 0.095}}},
        {"data": {"values": [{}]}, "mark": {"type": "text", "text": "/ln(I/I", "color": "black", "fontSize": 22, "align": "left", "baseline": "alphabetic"},
          "encoding": {"x": {"datum": 29.33}, "y": {"datum": 0.131}}},
        {"data": {"values": [{}]}, "mark": {"type": "text", "text": "0", "color": "black", "fontSize": 15, "align": "left", "baseline": "alphabetic"},
          "encoding": {"x": {"datum": 33.05}, "y": {"datum": 0.095}}},
        {"data": {"values": [{}]}, "mark": {"type": "text", "text": ")", "color": "black", "fontSize": 22, "align": "left", "baseline": "alphabetic"},
          "encoding": {"x": {"datum": 33.68}, "y": {"datum": 0.131}}},
        {"data": {"values": [{}]}, "mark": {"type": "text", "text": "b", "color": "black", "fontSize": 15, "align": "left", "baseline": "alphabetic"},
          "encoding": {"x": {"datum": 34.24}, "y": {"datum": 0.095}}}
      ]
    },
    {
      "width": 526, "height": 179,
      "data": {"name": "dq"},
      "mark": {"type": "line", "clip": true, "color": "black", "strokeWidth": 1.5},
      "encoding": {
        "x": {"field": "t", "type": "quantitative", "scale": {"domain": [0, 40]}, "axis": null},
        "y": {"field": "v", "type": "quantitative", "scale": {"domain": [0.5, 2]}, "axis": {"values": [0.6, 0.8, 1, 1.2, 1.4, 1.6, 1.8, 2], "format": "~g", "title": "DQ₁,₂", "titlePadding": 14}},
        "strokeDash": {"field": "s", "type": "nominal", "scale": {"domain": ["674 nm/817 nm", "817 nm/1313 nm"], "range": [[1, 0], [16, 9]]},
          "legend": {"orient": "none", "legendX": 270, "legendY": 128, "title": null, "labelFontSize": 22, "labelOffset": 33}},
        "detail": {"field": "g"}
      }
    },
    {
      "width": 526, "height": 143,
      "view": {"stroke": null},
      "layer": [
        {
          "data": {"name": "shaft2"},
          "mark": {"type": "rect", "color": "black"},
          "encoding": {
            "x": {"field": "x1", "type": "quantitative", "scale": {"domain": [0, 40]}, "axis": null},
            "x2": {"field": "x2"},
            "y": {"field": "y1", "type": "quantitative", "scale": {"domain": [0, 1]}, "axis": null},
            "y2": {"field": "y2"}
          }
        },
        {
          "data": {"name": "head2"},
          "mark": {"type": "area", "color": "black"},
          "encoding": {
            "x": {"field": "t", "type": "quantitative"},
            "y": {"field": "y", "type": "quantitative"},
            "y2": {"field": "y2"}
          }
        },
        {"data": {"values": [{}]}, "mark": {"type": "text", "text": "assignment to", "color": "white", "fontSize": 24, "align": "center", "baseline": "middle"},
          "encoding": {"x": {"datum": 19.3}, "y": {"datum": 0.888}}},
        {"data": {"values": [{}]}, "mark": {"type": "text", "text": "pre-calculated values", "color": "white", "fontSize": 24, "align": "center", "baseline": "middle"},
          "encoding": {"x": {"datum": 19.3}, "y": {"datum": 0.7}}},
        {"data": {"values": [{}]}, "mark": {"type": "text", "text": "volumetric mean diameter", "color": "black", "fontSize": 23, "align": "center", "baseline": "middle"},
          "encoding": {"x": {"datum": 20.2}, "y": {"datum": 0.224}}}
      ]
    },
    {
      "width": 526, "height": 178,
      "layer": [
        {
          "data": {"name": "x30"},
          "mark": {"type": "line", "color": "black", "strokeWidth": 1.5},
          "encoding": {
            "x": {"field": "t", "type": "quantitative", "scale": {"domain": [0, 40]}, "axis": {"values": [0, 5, 10, 15, 20, 25, 30, 35, 40], "title": "t [min]", "labelFlush": false, "labelPadding": 16, "titlePadding": 15}},
            "y": {"field": "v", "type": "quantitative", "scale": {"domain": [0, 2]}, "axis": {"values": [0, 0.5, 1, 1.5, 2], "format": "~g", "title": "x₃,₀ [µm]", "titlePadding": 14}},
            "detail": {"field": "g"}
          }
        },
        {"data": {"values": [{}]}, "mark": {"type": "text", "text": "additional results:", "color": "black", "fontSize": 22, "align": "left", "baseline": "middle"},
          "encoding": {"x": {"datum": 6.24}, "y": {"datum": 1.03}}},
        {"data": {"values": [{}]}, "mark": {"type": "text", "text": "♦width of log–normal distribution σ", "color": "black", "fontSize": 22, "align": "left", "baseline": "middle"},
          "encoding": {"x": {"datum": 7.53}, "y": {"datum": 0.77}}},
        {"data": {"values": [{}]}, "mark": {"type": "text", "text": "♦volume concentration c", "color": "black", "fontSize": 22, "align": "left", "baseline": "middle"},
          "encoding": {"x": {"datum": 7.53}, "y": {"datum": 0.5}}},
        {"data": {"values": [{}]}, "mark": {"type": "text", "text": "V", "color": "black", "fontSize": 15, "align": "left", "baseline": "middle"},
          "encoding": {"x": {"datum": 25.74}, "y": {"datum": 0.43}}}
      ]
    }
  ]
}
